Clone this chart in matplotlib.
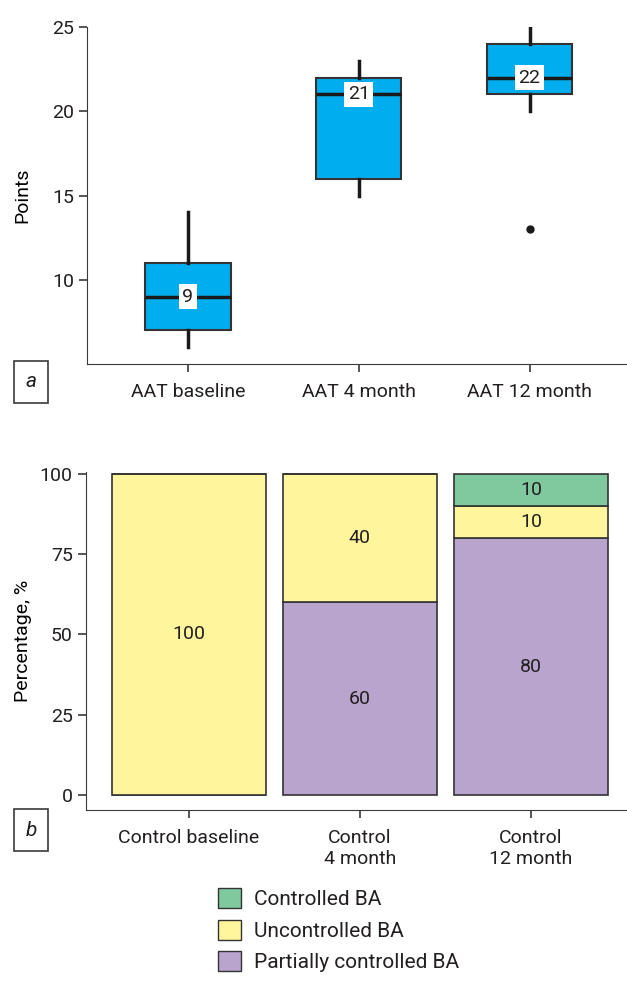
import matplotlib
matplotlib.use("Agg")
import matplotlib.pyplot as plt
from matplotlib.patches import Patch

plt.rcParams["font.family"] = ["Roboto", "DejaVu Sans"]
plt.rcParams["font.size"] = 14
plt.rcParams["text.color"] = "#231f20"
plt.rcParams["axes.edgecolor"] = "#3a3a3a"
plt.rcParams["xtick.color"] = "#3a3a3a"
plt.rcParams["ytick.color"] = "#3a3a3a"
plt.rcParams["xtick.labelcolor"] = "#231f20"
plt.rcParams["ytick.labelcolor"] = "#231f20"

# AAT score distributions
aat_labels = ["AAT baseline", "AAT 4 month", "AAT 12 month"]
aat_q1 = [7, 16, 21]
aat_med = [9, 21, 22]
aat_q3 = [11, 22, 24]
aat_whislo = [6, 15, 20]
aat_whishi = [14, 23, 25]
aat_fliers = [[], [], [13]]

# Control group asthma control (%)
ctrl_labels = ["Control baseline", "Control\n4 month", "Control\n12 month"]
partially = [0, 60, 80]
uncontrolled = [100, 40, 10]
controlled = [0, 0, 10]

BLUE = "#00aeef"
GREEN = "#80c99e"
YELLOW = "#fff59d"
PURPLE = "#b9a4cd"
EDGE = "#333333"
FS = 14

fig = plt.figure(figsize=(6.27, 9.83), dpi=100)

# --- panel a: boxplots ---
ax1 = fig.add_axes([0.139, 0.6297, 0.861, 0.3428])
stats = []
for i in range(3):
    stats.append(dict(q1=aat_q1[i], med=aat_med[i], q3=aat_q3[i],
                      whislo=aat_whislo[i], whishi=aat_whishi[i],
                      fliers=aat_fliers[i]))
ax1.bxp(stats, positions=[0, 1, 2], widths=0.5, patch_artist=True,
        showcaps=False,
        boxprops=dict(facecolor=BLUE, edgecolor=EDGE, linewidth=1.5),
        medianprops=dict(color="#1a1a1a", linewidth=2.5),
        whiskerprops=dict(color="#1a1a1a", linewidth=2.5),
        flierprops=dict(marker="o", markerfacecolor="#1a1a1a",
                        markeredgecolor="#1a1a1a", markersize=5))
for i, m in enumerate(aat_med):
    ax1.text(i, m, str(m), ha="center", va="center", fontsize=FS,
             bbox=dict(facecolor="white", edgecolor="none", pad=2.5))
ax1.set_xlim(-0.59, 2.57)
ax1.set_ylim(5, 25)
ax1.set_yticks([10, 15, 20, 25])
ax1.set_xticks([0, 1, 2])
ax1.set_xticklabels(aat_labels)
ax1.set_ylabel("Points", fontsize=FS)
ax1.yaxis.set_label_coords(-0.103, 0.5)
ax1.spines["top"].set_visible(False)
ax1.spines["right"].set_visible(False)
ax1.tick_params(axis="both", length=6, width=1.2, labelsize=FS)
ax1.tick_params(axis="x", pad=8)

# --- panel b: stacked bars ---
ax2 = fig.add_axes([0.137, 0.176, 0.863, 0.3438])
x = [0, 1, 2]
bot2 = [p + u for p, u in zip(partially, uncontrolled)]
ax2.bar(x, partially, width=0.9, color=PURPLE, edgecolor=EDGE, linewidth=1.2)
ax2.bar(x, uncontrolled, width=0.9, bottom=partially, color=YELLOW,
        edgecolor=EDGE, linewidth=1.2)
ax2.bar(x, controlled, width=0.9, bottom=bot2, color=GREEN,
        edgecolor=EDGE, linewidth=1.2)
for i in x:
    for vals, base in ((partially, [0, 0, 0]), (uncontrolled, partially),
                       (controlled, bot2)):
        if vals[i] > 0:
            ax2.text(i, base[i] + vals[i] / 2, str(vals[i]),
                     ha="center", va="center", fontsize=FS)
ax2.set_xlim(-0.6, 2.56)
ax2.set_ylim(-4.6, 100.5)
ax2.set_yticks([0, 25, 50, 75, 100])
ax2.set_xticks(x)
ax2.set_xticklabels(ctrl_labels)
ax2.set_ylabel("Percentage, %", fontsize=FS)
ax2.yaxis.set_label_coords(-0.10, 0.5)
ax2.spines["top"].set_visible(False)
ax2.spines["right"].set_visible(False)
ax2.tick_params(axis="both", length=6, width=1.2, labelsize=FS)
ax2.tick_params(axis="x", pad=8)

# panel letters
for letter, ypos in (("a", 0.6114), ("b", 0.1555)):
    fig.text(0.05, ypos, letter, ha="center", va="center", fontsize=15,
             style="italic",
             bbox=dict(facecolor="white", edgecolor="#3a3a3a",
                       linewidth=1.2, boxstyle="square,pad=0.55"))

handles = [Patch(facecolor=GREEN, edgecolor=EDGE, label="Controlled BA"),
           Patch(facecolor=YELLOW, edgecolor=EDGE, label="Uncontrolled BA"),
           Patch(facecolor=PURPLE, edgecolor=EDGE, label="Partially controlled BA")]
fig.legend(handles=handles, loc="upper left", bbox_to_anchor=(0.335, 0.105),
           frameon=False, fontsize=15, handlelength=1.1, handleheight=1.1,
           handletextpad=0.6, labelspacing=0.5, borderaxespad=0)

fig.savefig("out.png", dpi=100)
